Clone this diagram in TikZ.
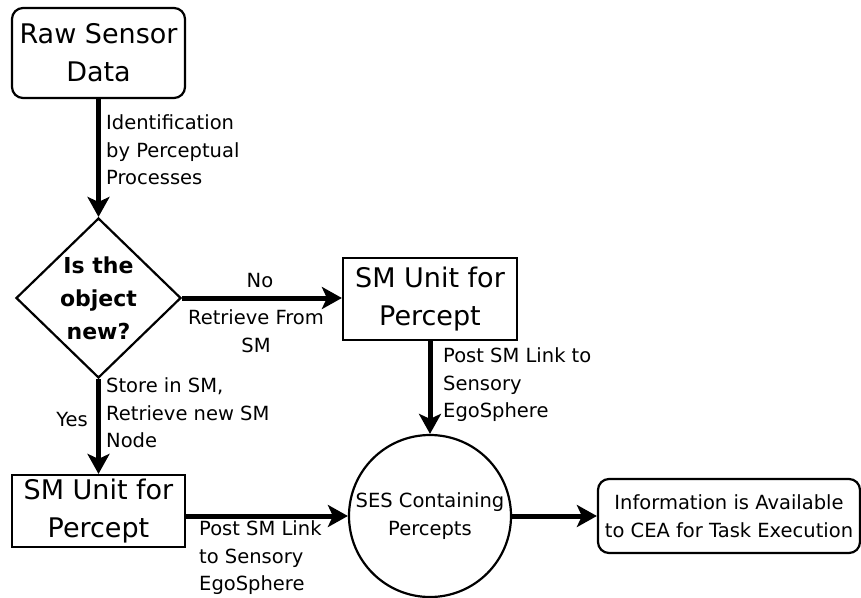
\documentclass[tikz,border=0pt]{standalone}
\usepackage{fontspec}
\setmainfont{DejaVu Sans}
\usetikzlibrary{shapes.geometric,arrows.meta}
\begin{document}
\begin{tikzpicture}[x=1pt,y=-1pt,
  big/.style={font=\fontsize{27}{38}\selectfont,align=center},
  small/.style={font=\fontsize{19.5}{27.5}\selectfont},
  lab/.style={small,align=left,inner sep=0pt,anchor=west},
  box/.style={draw,line width=2.2pt,inner sep=0pt},
  conn/.style={line width=5pt,-{Stealth[length=20pt,width=22pt,inset=5pt]}}]
\useasboundingbox (0,0) rectangle (861,597);
\node[box,big,rounded corners=11pt,minimum width=173pt,minimum height=90pt] (raw) at (98.5,53) {Raw Sensor\\Data};
\node[box,diamond,font=\bfseries\fontsize{22}{33}\selectfont,align=center,minimum width=165pt,minimum height=155pt] (dia) at (98.5,298) {Is the\\object\\new?};
\node[box,big,minimum width=174pt,minimum height=82pt] (sm1) at (430,299) {SM Unit for\\Percept};
\node[box,big,minimum width=173pt,minimum height=72pt] (sm2) at (98.5,511) {SM Unit for\\Percept};
\node[box,circle,small,align=center,minimum size=162pt] (ses) at (430,516) {SES Containing\\Percepts};
\node[box,small,align=center,rounded corners=11pt,minimum width=262pt,minimum height=74pt] (info) at (729,516) {Information is Available\\to CEA for Task Execution};
\draw[conn] (raw.south) -- (dia.north);
\draw[conn] (dia.east) -- (dia.east -| sm1.west);
\draw[conn] (dia.south) -- (sm2.north);
\draw[conn] (sm1.south) -- (ses.north);
\draw[conn] (sm2.east |- ses.west) -- (ses.west);
\draw[conn] (ses.east) -- (info.west);
\node[lab] (l1) at (106,150) {Identification\\by Perceptual\\Processes};
\node[small,inner sep=0pt] (lno) at (260,281) {No};
\node[small,align=center,inner sep=0pt] (lret) at (256,331) {Retrieve From\\SM};
\node[lab] (lstore) at (106,413) {Store in SM,\\Retrieve new SM\\Node};
\node[small,inner sep=0pt] (lyes) at (72,420) {Yes};
\node[lab] (lpost1) at (443,385) {Post SM Link to\\Sensory\\EgoSphere};
\node[lab] (lpost2) at (199,558) {Post SM Link\\to Sensory\\EgoSphere};
\end{tikzpicture}
\end{document}
